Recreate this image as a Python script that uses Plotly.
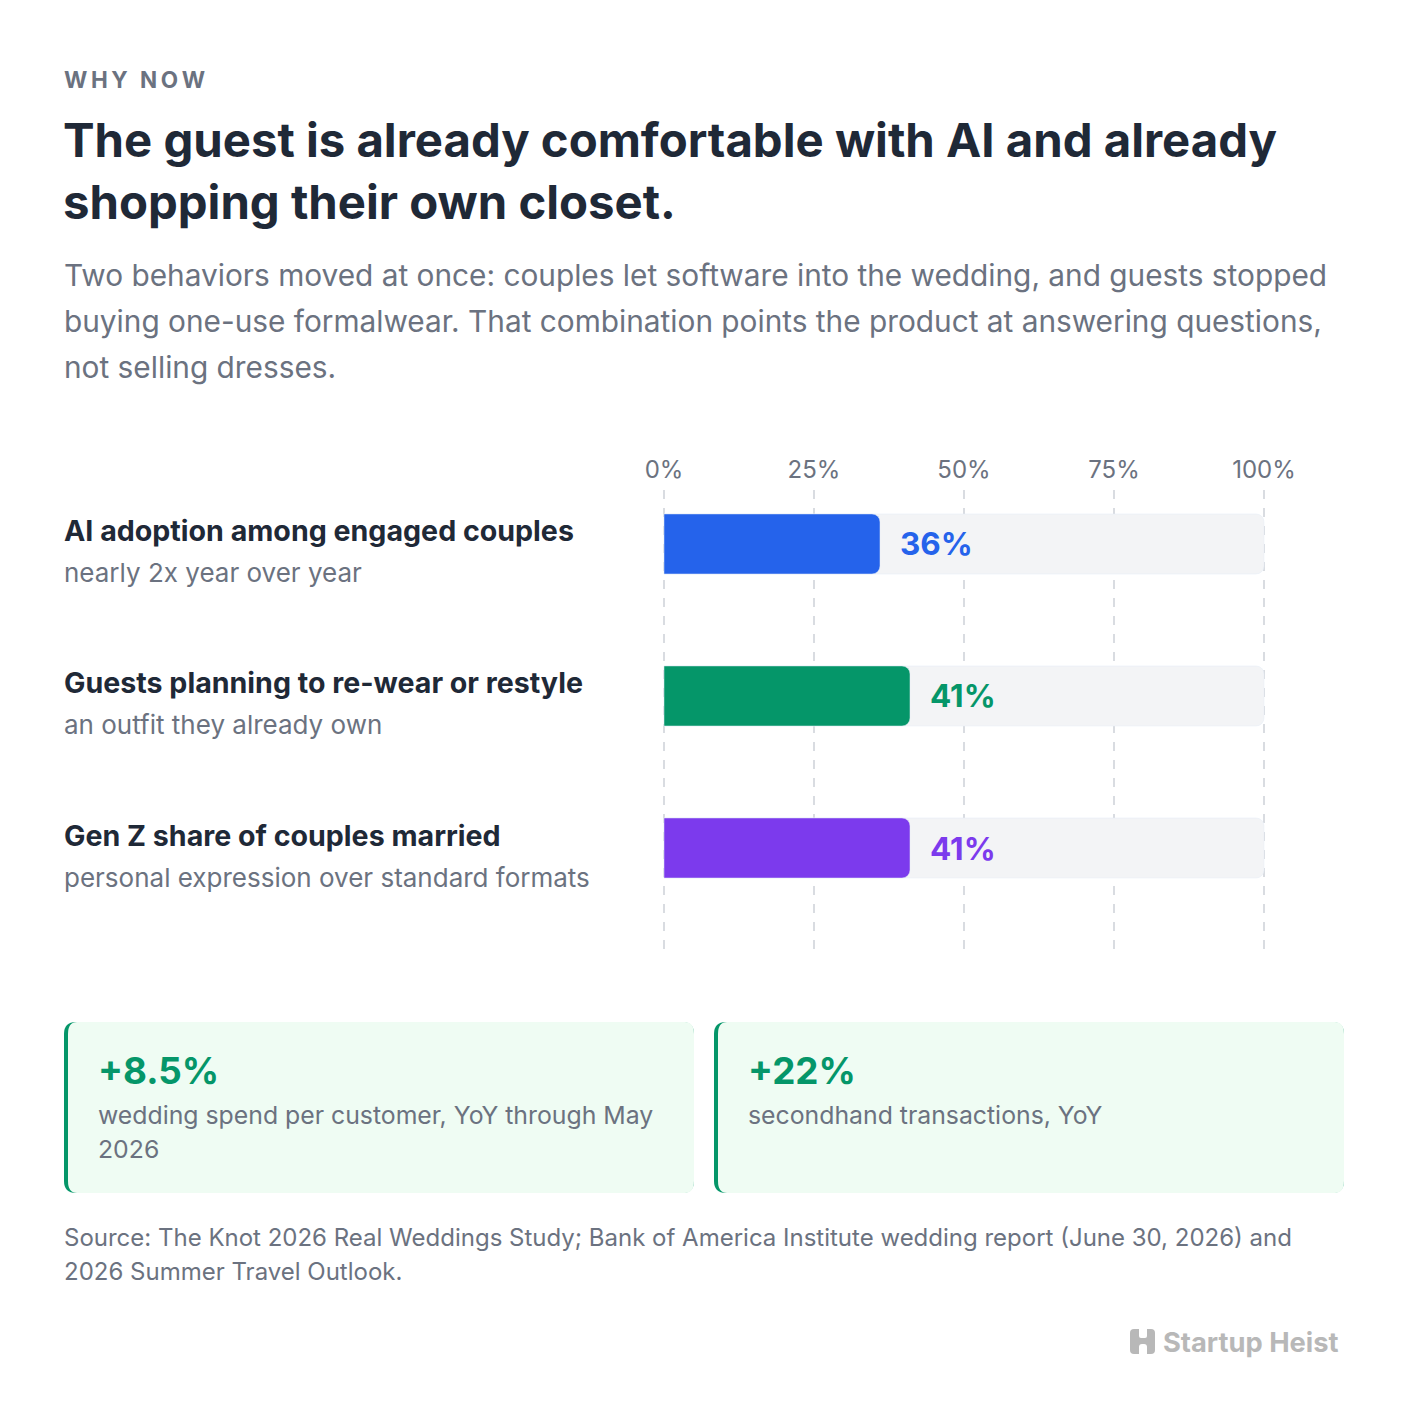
import plotly.graph_objects as go

W, H = 1408, 1426

# chart data
categories = [
    "AI adoption among engaged couples",
    "Guests planning to re-wear or restyle",
    "Gen Z share of couples married",
]
subtitles = [
    "nearly 2x year over year",
    "an outfit they already own",
    "personal expression over standard formats",
]
values = [36, 41, 41]
bar_colors = ["#2563eb", "#059669", "#7c3aed"]
tick_vals = [0, 25, 50, 75, 100]
tick_text = ["0%", "25%", "50%", "75%", "100%"]

stat_values = ["+8.5%", "+22%"]
stat_labels = [
    ["wedding spend per customer, YoY through May", "2026"],
    ["secondhand transactions, YoY"],
]

# page offset of the plot div (body margin)
OFF = 8
# plot area in screen pixels
PL, PR = 661 - OFF, 1267 - OFF
PT, PB = 490 - OFF, 950 - OFF
FONT = "Inter"
DARK = "#1f2937"
GRAY = "#6b7280"
Y_RANGE = [2.671, -0.355]


def px(x):
    return (x - OFF - PL) / (PR - PL)


def py(y):
    return (PB - (y - OFF)) / (PB - PT)


def rrect(x0, y0, x1, y1, rx, ry=None):
    # rounded rectangle path in paper coords, from screen pixel box
    ry = rx if ry is None else ry
    pts = [
        f"M {px(x0 + rx)},{py(y0)}",
        f"L {px(x1 - rx)},{py(y0)}",
        f"Q {px(x1)},{py(y0)} {px(x1)},{py(y0 + ry)}",
        f"L {px(x1)},{py(y1 - ry)}",
        f"Q {px(x1)},{py(y1)} {px(x1 - rx)},{py(y1)}",
        f"L {px(x0 + rx)},{py(y1)}",
        f"Q {px(x0)},{py(y1)} {px(x0)},{py(y1 - ry)}",
        f"L {px(x0)},{py(y0 + ry)}",
        f"Q {px(x0)},{py(y0)} {px(x0 + rx)},{py(y0)}",
        "Z",
    ]
    return " ".join(pts)


fig = go.Figure()

# background tracks (main axis)
fig.add_trace(go.Bar(
    y=categories, x=[100] * len(categories), orientation="h",
    marker=dict(color="#f3f4f6", cornerradius=8),
    hoverinfo="skip", showlegend=False,
))
# values on an overlaid axis so each bar gets its own rounded end
fig.add_trace(go.Bar(
    y=categories, x=values, orientation="h", yaxis="y2",
    marker=dict(color=bar_colors, cornerradius=8),
    hoverinfo="skip", showlegend=False,
))

ann = []


def text(x, y, s, size, color, bold=False, anchor="left"):
    ann.append(dict(
        x=px(x), y=py(y), xref="paper", yref="paper", text=s,
        showarrow=False, xanchor=anchor, yanchor="middle",
        font=dict(family=FONT, size=size, color=color,
                  weight=700 if bold else 400),
    ))


# header
text(61.5, 79, "\u2009".join("WHY NOW"), 22.5, GRAY, bold=True)
text(60.5, 139, "The guest is already comfortable with AI and already", 47.3, DARK, bold=True)
text(60.5, 201, "shopping their own closet.", 47.3, DARK, bold=True)
sub = [
    "Two behaviors moved at once: couples let software into the wedding, and guests stopped",
    "buying one-use formalwear. That combination points the product at answering questions,",
    "not selling dresses.",
]
for i, line in enumerate(sub):
    text(61.5, 275 + 46 * i, line, 29.8, GRAY)

# row labels and value labels
for i, (cat, s, v, c) in enumerate(zip(categories, subtitles, values, bar_colors)):
    ann.append(dict(x=px(61.5), xref="paper", y=cat, yref="y", yshift=13,
                    text=cat, showarrow=False, xanchor="left", yanchor="middle",
                    font=dict(family=FONT, size=28.6, color=DARK, weight=700)))
    ann.append(dict(x=px(61.5), xref="paper", y=cat, yref="y", yshift=-29,
                    text=s, showarrow=False, xanchor="left", yanchor="middle",
                    font=dict(family=FONT, size=26, color=GRAY)))
    ann.append(dict(x=v, xref="x", y=cat, yref="y", xshift=18,
                    text=f"{v}%", showarrow=False, xanchor="left", yanchor="middle",
                    font=dict(family=FONT, size=31.5, color=c, weight=700)))

# stat cards
shapes = []
card_x = [(64, 694), (714, 1344)]
for (x0, x1), val, lines in zip(card_x, stat_values, stat_labels):
    shapes.append(dict(type="path", xref="paper", yref="paper",
                       path=rrect(x0, 1022, x1, 1193, 12),
                       fillcolor="#059669", line=dict(width=0), layer="below"))
    shapes.append(dict(type="path", xref="paper", yref="paper",
                       path=rrect(x0 + 4, 1022, x1, 1193, 9, 12),
                       fillcolor="#effcf3", line=dict(width=0), layer="below"))
    text(x0 + 32, 1070, val, 36.8, "#059669", bold=True)
    for j, line in enumerate(lines):
        text(x0 + 32, 1115 + 34 * j, line, 24.8, GRAY)

# source
text(61.5, 1237, "Source: The Knot 2026 Real Weddings Study; Bank of America Institute wedding report (June 30, 2026) and", 24, GRAY)
text(61.5, 1271, "2026 Summer Travel Outlook.", 24, GRAY)

# logo
shapes.append(dict(type="path", xref="paper", yref="paper",
                   path=rrect(1130, 1329, 1155, 1354, 4),
                   fillcolor="#b8b8b8", line=dict(width=0)))
shapes.append(dict(type="path", xref="paper", yref="paper",
                   path=rrect(1139, 1326, 1147, 1338, 2),
                   fillcolor="#ffffff", line=dict(width=0)))
shapes.append(dict(type="path", xref="paper", yref="paper",
                   path=rrect(1139, 1344, 1147, 1357, 3),
                   fillcolor="#ffffff", line=dict(width=0)))
text(1341, 1342, "Startup Heist", 27.3, "#b8b8b8", bold=True, anchor="right")

fig.update_layout(
    width=W, height=H,
    margin=dict(l=PL, r=W - PR, t=PT, b=H - PB, pad=0),
    paper_bgcolor="white", plot_bgcolor="white",
    barmode="overlay", bargap=0.605,
    annotations=ann, shapes=shapes,
    font=dict(family=FONT),
    xaxis=dict(
        range=[-0.5, 100.5], side="top", tickvals=tick_vals, ticktext=tick_text,
        showgrid=True, gridcolor="#d9dce1", griddash="dash", gridwidth=2,
        zeroline=False, showline=False, ticks="",
        tickfont=dict(family=FONT, size=24, color=GRAY), ticklabelstandoff=6,
        fixedrange=True,
    ),
    yaxis=dict(
        range=Y_RANGE, showticklabels=False, showgrid=False,
        zeroline=False, showline=False, fixedrange=True,
    ),
    yaxis2=dict(
        overlaying="y", range=Y_RANGE, showticklabels=False, showgrid=False,
        zeroline=False, showline=False, fixedrange=True,
        categoryorder="array", categoryarray=categories,
    ),
)

fig.write_html("out.html")
